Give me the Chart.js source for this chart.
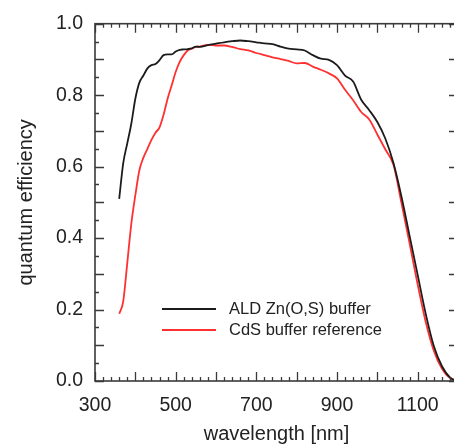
<!DOCTYPE html>
<html lang="en">
<head>
    <meta charset="UTF-8">
    <title>Quantum Efficiency</title>
    <script src="https://cdn.jsdelivr.net/npm/chart.js"></script>
    <style>
        html, body { margin: 0; padding: 0; background: #ffffff; overflow: hidden; }
        #qeChart { display: block; }
    </style>
</head>
<body>
    <canvas id="qeChart" width="460" height="446"></canvas>

    <script>
        // wavelength grid in nm, shared by both curves
        const wavelengths = [360, 370, 380, 390, 400, 410, 420, 430, 440, 450, 460, 470, 480, 490, 500,
            510, 520, 530, 540, 550, 560, 580, 600, 620, 640, 660, 680, 700, 720, 740, 760, 780, 800,
            820, 840, 860, 880, 900, 920, 940, 960, 980, 1000, 1020, 1040, 1060, 1080, 1100, 1120,
            1140, 1160, 1180, 1200];

        const znosQE = [0.51, 0.61, 0.665, 0.72, 0.79, 0.835, 0.855, 0.875, 0.884, 0.887, 0.898,
            0.912, 0.914, 0.914, 0.922, 0.927, 0.928, 0.929, 0.931, 0.936, 0.935, 0.94, 0.944,
            0.948, 0.951, 0.953, 0.951, 0.948, 0.945, 0.943, 0.936, 0.930, 0.928, 0.925, 0.912,
            0.902, 0.899, 0.884, 0.855, 0.838, 0.787, 0.758, 0.725, 0.678, 0.61, 0.515, 0.406,
            0.297, 0.188, 0.098, 0.042, 0.01, 0.0];

        const cdsQE = [0.188, 0.223, 0.33, 0.44, 0.52, 0.59, 0.625, 0.65, 0.675, 0.695, 0.71,
            0.745, 0.79, 0.827, 0.865, 0.893, 0.912, 0.925, 0.93, 0.935, 0.936, 0.941, 0.939,
            0.939, 0.935, 0.929, 0.925, 0.918, 0.912, 0.906, 0.901, 0.896, 0.889, 0.89, 0.88,
            0.871, 0.861, 0.847, 0.815, 0.786, 0.753, 0.732, 0.69, 0.648, 0.605, 0.497, 0.385,
            0.27, 0.165, 0.085, 0.035, 0.008, 0.0];

        const seriesNames = ['ALD Zn(O,S) buffer', 'CdS buffer reference'];
        const xTickLabels = [300, 500, 700, 900, 1100];
        const yTickLabels = [0.0, 0.2, 0.4, 0.6, 0.8, 1.0];

        const FONT = "'Liberation Sans', Arial, sans-serif";
        const AXIS_COLOR = '#3a3a3a';
        const TEXT_COLOR = '#222222';

        // inward ticks on all four sides plus the frame
        const frameTicks = {
            id: 'frameTicks',
            afterDraw(chart) {
                const ctx = chart.ctx;
                const a = chart.chartArea;
                const xs = chart.scales.x, ys = chart.scales.y;
                ctx.save();
                ctx.strokeStyle = AXIS_COLOR;
                ctx.lineWidth = 1.3;
                ctx.beginPath();
                for (let v = 300; v <= 1200; v += 20) {
                    const px = Math.round(xs.getPixelForValue(v)) + 0.5;
                    const len = v % 100 === 0 ? 9 : 4;
                    ctx.moveTo(px, a.bottom); ctx.lineTo(px, a.bottom - len);
                    ctx.moveTo(px, a.top); ctx.lineTo(px, a.top + len);
                }
                for (let i = 0; i <= 20; i++) {
                    const py = Math.round(ys.getPixelForValue(i * 0.05)) + 0.5;
                    const len = i % 2 === 0 ? 9 : 4;
                    ctx.moveTo(a.left, py); ctx.lineTo(a.left + len, py);
                    ctx.moveTo(a.right, py); ctx.lineTo(a.right - len, py);
                }
                ctx.stroke();
                ctx.lineWidth = 1.6;
                ctx.strokeRect(a.left, a.top, a.right - a.left, a.bottom - a.top);
                ctx.restore();
            }
        };

        // legend drawn inside the plot, lower middle
        const insideLegend = {
            id: 'insideLegend',
            afterDatasetsDraw(chart) {
                const ctx = chart.ctx;
                ctx.save();
                ctx.font = '16.5px ' + FONT;
                ctx.textBaseline = 'middle';
                ctx.fillStyle = TEXT_COLOR;
                chart.data.datasets.forEach((ds, i) => {
                    const y = 309 + i * 21;
                    ctx.strokeStyle = ds.borderColor;
                    ctx.lineWidth = 1.8;
                    ctx.beginPath();
                    ctx.moveTo(162, y); ctx.lineTo(216, y);
                    ctx.stroke();
                    ctx.fillText(ds.label, 229, y);
                });
                ctx.restore();
            }
        };

        const toPoints = vals => wavelengths.map((w, i) => ({ x: w, y: vals[i] }));

        new Chart(document.getElementById('qeChart').getContext('2d'), {
            type: 'line',
            data: {
                datasets: [{
                    label: seriesNames[0],
                    data: toPoints(znosQE),
                    borderColor: '#1c1c1c',
                    borderWidth: 1.8,
                    pointRadius: 0,
                    fill: false,
                    cubicInterpolationMode: 'monotone'
                }, {
                    label: seriesNames[1],
                    data: toPoints(cdsQE),
                    borderColor: '#ff3030',
                    borderWidth: 1.8,
                    pointRadius: 0,
                    fill: false,
                    cubicInterpolationMode: 'monotone'
                }]
            },
            options: {
                responsive: false,
                animation: false,
                events: [],
                layout: { padding: { top: 17, right: 2, left: 0, bottom: 0 } },
                plugins: { legend: { display: false }, tooltip: { enabled: false } },
                scales: {
                    x: {
                        type: 'linear',
                        min: 300,
                        max: 1200,
                        grid: { display: false, drawTicks: false },
                        border: { display: false },
                        afterBuildTicks: s => { s.ticks = xTickLabels.map(v => ({ value: v })); },
                        afterFit: s => { s.height = 65; },
                        ticks: {
                            padding: 12.5,
                            color: TEXT_COLOR,
                            font: { family: FONT, size: 19.5 },
                            maxRotation: 0,
                            callback: v => String(v)
                        },
                        title: {
                            display: true,
                            text: 'wavelength [nm]',
                            color: TEXT_COLOR,
                            font: { family: FONT, size: 20 },
                            padding: { top: 0, bottom: 0 }
                        }
                    },
                    y: {
                        type: 'linear',
                        min: 0,
                        max: 1,
                        grid: { display: false, drawTicks: false },
                        border: { display: false },
                        afterBuildTicks: s => { s.ticks = yTickLabels.map(v => ({ value: v })); },
                        afterFit: s => { s.width = 95; },
                        ticks: {
                            padding: 12,
                            color: TEXT_COLOR,
                            font: { family: FONT, size: 19.5 },
                            callback: v => Number(v).toFixed(1)
                        },
                        title: {
                            display: true,
                            text: 'quantum efficiency',
                            color: TEXT_COLOR,
                            font: { family: FONT, size: 20 },
                            padding: { top: 14, bottom: 0 }
                        }
                    }
                }
            },
            plugins: [frameTicks, insideLegend]
        });
    </script>
</body>
</html>
